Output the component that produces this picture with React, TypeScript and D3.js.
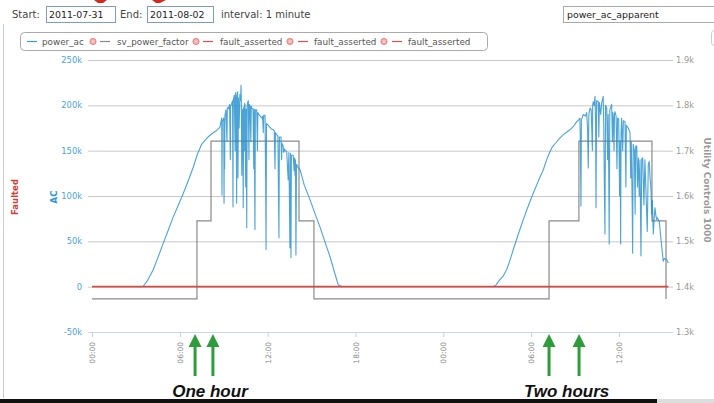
import React from "react";
import * as d3 from "d3";

// ---- data (hours since 2011-07-31 00:00, values) ----
const powerAcDay1: [number, number][] = [
  [3.28,0],[3.5,0.5],[3.8,7],[4.19,19],[4.5,32],[4.87,48],[5.2,62],[5.55,77],[5.9,90],[6.24,103],[6.6,118],[6.92,132],[7.2,146],[7.49,157],[7.7,161],[7.92,165],[8.06,167],[8.3,170],[8.5,172],[8.74,176],[8.8,181],[8.86,186],[8.88,101],[8.9,182],[8.95,184],[9.0,186],[9.02,92],[9.04,170],[9.06,130],[9.08,189],[9.15,195],[9.22,160],[9.24,196],[9.29,198],[9.35,196],[9.4,201],[9.45,140],[9.47,199],[9.54,202],[9.6,205],[9.63,88],[9.65,206],[9.72,211],[9.78,150],[9.8,212],[9.82,214],[9.86,160],[9.88,92],[9.9,210],[9.95,215],[9.97,120],[10.0,208],[10.05,175],[10.1,212],[10.15,205],[10.18,222],[10.2,205],[10.23,123],[10.26,190],[10.3,196],[10.33,87],[10.36,198],[10.4,150],[10.42,202],[10.45,201],[10.5,110],[10.53,196],[10.57,65],[10.6,200],[10.65,204],[10.68,205],[10.72,140],[10.75,201],[10.8,199],[10.85,160],[10.88,199],[10.91,197],[11.0,196],[11.05,130],[11.08,196],[11.13,63],[11.16,195],[11.25,195],[11.3,150],[11.33,192],[11.4,190],[11.5,188],[11.59,186],[11.65,188],[11.7,170],[11.73,189],[11.82,189],[11.86,120],[11.89,41],[11.92,180],[12.04,178],[12.15,176],[12.25,174],[12.38,173],[12.45,172],[12.5,130],[12.53,170],[12.6,168],[12.7,166],[12.77,54],[12.8,165],[12.91,165],[12.95,140],[12.98,158],[13.05,156],[13.1,148],[13.15,152],[13.2,150],[13.3,149],[13.4,118],[13.45,148],[13.52,43],[13.56,147],[13.59,32],[13.62,145],[13.75,145],[13.8,128],[13.84,142],[13.87,123],[13.9,140],[13.93,35],[13.97,135],[14.05,132],[14.21,129],[14.5,112],[14.89,96],[15.2,82],[15.57,66],[15.9,50],[16.26,33],[16.6,14],[16.82,2],[17.08,0]
];

const powerAcDay2: [number, number][] = [
  [27.41,0],[27.6,2],[27.87,8],[28.1,12],[28.33,19],[28.55,29],[28.78,41],[29.1,57],[29.46,74],[29.8,89],[30.14,103],[30.5,117],[30.83,129],[31.1,142],[31.4,153],[31.7,159],[31.97,164],[32.3,169],[32.65,173],[32.9,177],[33.11,182],[33.25,184],[33.33,186],[33.36,158],[33.4,89],[33.43,184],[33.56,190],[33.7,188],[33.79,192],[33.85,175],[33.9,131],[33.94,190],[34.02,197],[34.1,195],[34.18,150],[34.2,200],[34.24,204],[34.3,200],[34.36,210],[34.4,180],[34.43,87],[34.47,205],[34.58,204],[34.62,165],[34.66,203],[34.75,190],[34.82,203],[34.92,210],[34.96,175],[35.0,110],[35.04,58],[35.08,200],[35.16,197],[35.22,140],[35.26,190],[35.3,120],[35.33,47],[35.37,195],[35.5,201],[35.55,160],[35.58,192],[35.61,186],[35.66,150],[35.69,190],[35.72,193],[35.8,188],[35.86,130],[35.9,186],[35.98,185],[36.04,100],[36.08,160],[36.11,47],[36.14,170],[36.18,186],[36.25,150],[36.3,183],[36.41,182],[36.47,110],[36.5,178],[36.63,175],[36.7,172],[36.75,170],[36.8,120],[36.84,160],[36.9,90],[36.93,37],[36.97,157],[37.05,150],[37.1,80],[37.14,155],[37.21,155],[37.26,110],[37.32,142],[37.38,100],[37.43,140],[37.5,34],[37.55,141],[37.62,142],[37.7,90],[37.77,140],[37.85,100],[37.93,61],[38.0,135],[38.07,138],[38.12,120],[38.18,109],[38.23,80],[38.28,95],[38.34,58],[38.4,75],[38.46,87],[38.52,78],[38.57,74],[38.62,76],[38.75,72],[38.85,55],[39.02,28],[39.1,31],[39.25,30],[39.37,26]
];

const svPowerFactor: [number, number][] = [
  [0,1373],[7.17,1545],[8.13,1721],[14.14,1545],[15.16,1373],[31.22,1545],[33.26,1721],[38.25,1545],[39.21,1373]
];

const faultAsserted: [number, number][] = [[0,0],[39.37,0]];

const leftTicks = [-50000, 0, 50000, 100000, 150000, 200000, 250000];
const rightTicks = [1300, 1400, 1500, 1600, 1700, 1800, 1900];
const legendNames = ["power_ac", "sv_power_factor", "fault_asserted", "fault_asserted", "fault_asserted"];
const annotationHours = [7.04, 8.26, 31.22, 33.27];
const annotationLabels = [
  { text: "One hour", hours: 8.06 },
  { text: "Two hours", hours: 32.42 },
];

const start = new Date(2011, 6, 31, 0, 0, 0);
const hToDate = (h: number) => new Date(start.getTime() + h * 3600 * 1000);

export default function App() {
  const W = 714, H = 403;
  const x = d3.scaleTime().domain([start, hToDate(39.667)]).range([92, 672.7]);
  const yL = d3.scaleLinear().domain([-50000, 250000]).range([332, 60]);
  const yR = d3.scaleLinear().domain([1300, 1900]).range([332, 60]);
  const gridX0 = 88, gridX1 = 673;

  const acLine = d3.line<[number, number]>()
    .x(d => x(hToDate(d[0])))
    .y(d => yL(d[1] * 1000));
  const svLine = d3.line<[number, number]>()
    .x(d => x(hToDate(d[0])))
    .y(d => yR(d[1]))
    .curve(d3.curveStepAfter);
  const fLine = d3.line<[number, number]>()
    .x(d => x(hToDate(d[0])))
    .y(d => yL(d[1]));

  const xTicks = x.ticks(d3.timeHour.every(6) as any);
  const fmtT = d3.timeFormat("%H:%M");
  const fmtL = (v: number) => (v === 0 ? "0" : `${v / 1000}k`);
  const fmtR = (v: number) => `${(v / 1000).toFixed(1)}k`;

  const ui = "DejaVu Sans, Verdana, sans-serif";
  const legendColors = ["#3a9ad9", "#888", "#d9534f", "#d9534f", "#d9534f"];
  const legendLineX = [27, 100, 203, 298, 392];
  const legendTextX = [42, 117, 220, 314, 408];
  const legendIconX = [93, 196, 290, 384];

  return (
    <svg width={W} height={H} style={{ position: "absolute", left: 0, top: 0, background: "#fff" }}>
      <rect x={0} y={0} width={W} height={H} fill="#fff" />
      {/* cut-off red arrows at top */}
      <polygon points="94,0 107,0 103,3 98,3" fill="#d42a1e" />
      <polygon points="152,0 166,0 160,3 156,3" fill="#d42a1e" />
      {/* left frame line */}
      <line x1={3.5} y1={24} x2={3.5} y2={398} stroke="#ccc" />

      {/* top controls */}
      <text x={12} y={18} fontFamily={ui} fontSize={10} fill="#444">Start:</text>
      <rect x={46.5} y={6.5} width={69} height={16} fill="#fff" stroke="#7f9db9" />
      <text x={49} y={18} fontFamily={ui} fontSize={9.4} fill="#222">2011-07-31</text>
      <text x={120} y={18} fontFamily={ui} fontSize={10} fill="#444">End:</text>
      <rect x={147.5} y={6.5} width={66} height={16} fill="#fff" stroke="#7f9db9" />
      <text x={150} y={18} fontFamily={ui} fontSize={9.4} fill="#222">2011-08-02</text>
      <text x={221} y={18} fontFamily={ui} fontSize={10} fill="#444">interval: 1 minute</text>
      <rect x={563.5} y={6.5} width={160} height={16} fill="#fff" stroke="#aaa" />
      <text x={567} y={18} fontFamily={ui} fontSize={9.4} fill="#222">power_ac_apparent</text>
      <rect x={711.5} y={30.5} width={10} height={15} rx={3} fill="#fff" stroke="#ccc" />

      {/* legend */}
      <rect x={20.5} y={32.5} width={467} height={18} rx={4} fill="#fff" stroke="#aaa" />
      {legendNames.map((n, i) => (
        <g key={i}>
          <line x1={legendLineX[i]} x2={legendLineX[i] + 10} y1={41.5} y2={41.5} stroke={legendColors[i]} strokeWidth={1.2} />
          <text x={legendTextX[i]} y={44.5} fontFamily={ui} fontSize={8.8} fill="#555">{n}</text>
        </g>
      ))}
      {legendIconX.map((cx, i) => (
        <g key={"ic" + i}>
          <circle cx={cx} cy={41.5} r={3.2} fill="#f3a3a3" stroke="#e07070" strokeWidth={0.6} />
          <path d={`M${cx - 1.3},${40.2}L${cx + 1.3},${42.8}M${cx + 1.3},${40.2}L${cx - 1.3},${42.8}`} stroke="#fff" strokeWidth={0.7} />
        </g>
      ))}

      {/* grid lines */}
      {leftTicks.filter(t => t !== -50000).map(t => (
        <line key={t} x1={gridX0} x2={gridX1} y1={yL(t) + 0.5} y2={yL(t) + 0.5} stroke="#c8c8c8" />
      ))}
      <line x1={gridX0} x2={gridX1} y1={yL(-50000) + 0.5} y2={yL(-50000) + 0.5} stroke="#c9d8e6" strokeWidth={1.2} />
      {xTicks.map((t, i) => (
        <line key={i} x1={x(t) + 0.5} x2={x(t) + 0.5} y1={333} y2={337} stroke="#ccc" />
      ))}

      {/* left axis labels */}
      {leftTicks.map(t => (
        <text key={t} x={82} y={yL(t)} dy="0.35em" textAnchor="end" fontFamily={ui} fontSize={8.3} fill="#4aa3df">{fmtL(t)}</text>
      ))}
      {/* right axis labels */}
      {rightTicks.map(t => (
        <text key={t} x={676} y={yR(t)} dy="0.35em" fontFamily={ui} fontSize={8.3} fill="#999">{fmtR(t)}</text>
      ))}
      {/* x axis labels */}
      {xTicks.map((t, i) => (
        <text key={i} transform={`translate(${x(t) + 3},342) rotate(-90)`} textAnchor="end" fontFamily={ui} fontSize={7.5} fill="#888">{fmtT(t)}</text>
      ))}

      {/* axis titles */}
      <text transform="translate(18,197) rotate(-90)" textAnchor="middle" fontFamily={ui} fontSize={8.5} fontWeight="bold" fill="#c9433b">Faulted</text>
      <text transform="translate(57,197) rotate(-90)" textAnchor="middle" fontFamily={ui} fontSize={8.5} fontWeight="bold" fill="#2f95d6">AC</text>
      <text transform="translate(704,190) rotate(90)" textAnchor="middle" fontFamily={ui} fontSize={9} fontWeight="bold" fill="#999">Utility Controls 1000</text>

      {/* series */}
      <path d={svLine(svPowerFactor) || ""} fill="none" stroke="#8a8a8a" strokeWidth={1.2} />
      <path d={acLine(powerAcDay1) || ""} fill="none" stroke="#1f8dcc" strokeWidth={1.1} strokeOpacity={0.8} strokeLinejoin="round" />
      <path d={acLine(powerAcDay2) || ""} fill="none" stroke="#1f8dcc" strokeWidth={1.1} strokeOpacity={0.8} strokeLinejoin="round" />
      <path d={fLine(faultAsserted) || ""} fill="none" stroke="#d44a3e" strokeWidth={1.6} />

      {/* annotations */}
      {annotationHours.map((h, i) => {
        const ax = x(hToDate(h));
        return (
          <g key={"a" + i}>
            <line x1={ax} x2={ax} y1={344} y2={376} stroke="#2e9c3a" strokeWidth={3} />
            <polygon points={`${ax},334 ${ax - 6.5},347 ${ax + 6.5},347`} fill="#2e9c3a" />
          </g>
        );
      })}
      {annotationLabels.map((a, i) => (
        <text key={"l" + i} x={x(hToDate(a.hours))} y={397} textAnchor="middle" fontFamily="Liberation Sans, Arial, sans-serif" fontSize={17} fontWeight="bold" fontStyle="italic" fill="#111">{a.text}</text>
      ))}

      {/* bottom bar */}
      <rect x={0} y={399} width={657} height={4} fill="#111" />
      <rect x={657} y={399} width={57} height={4} fill="#ddd" />
    </svg>
  );
}
